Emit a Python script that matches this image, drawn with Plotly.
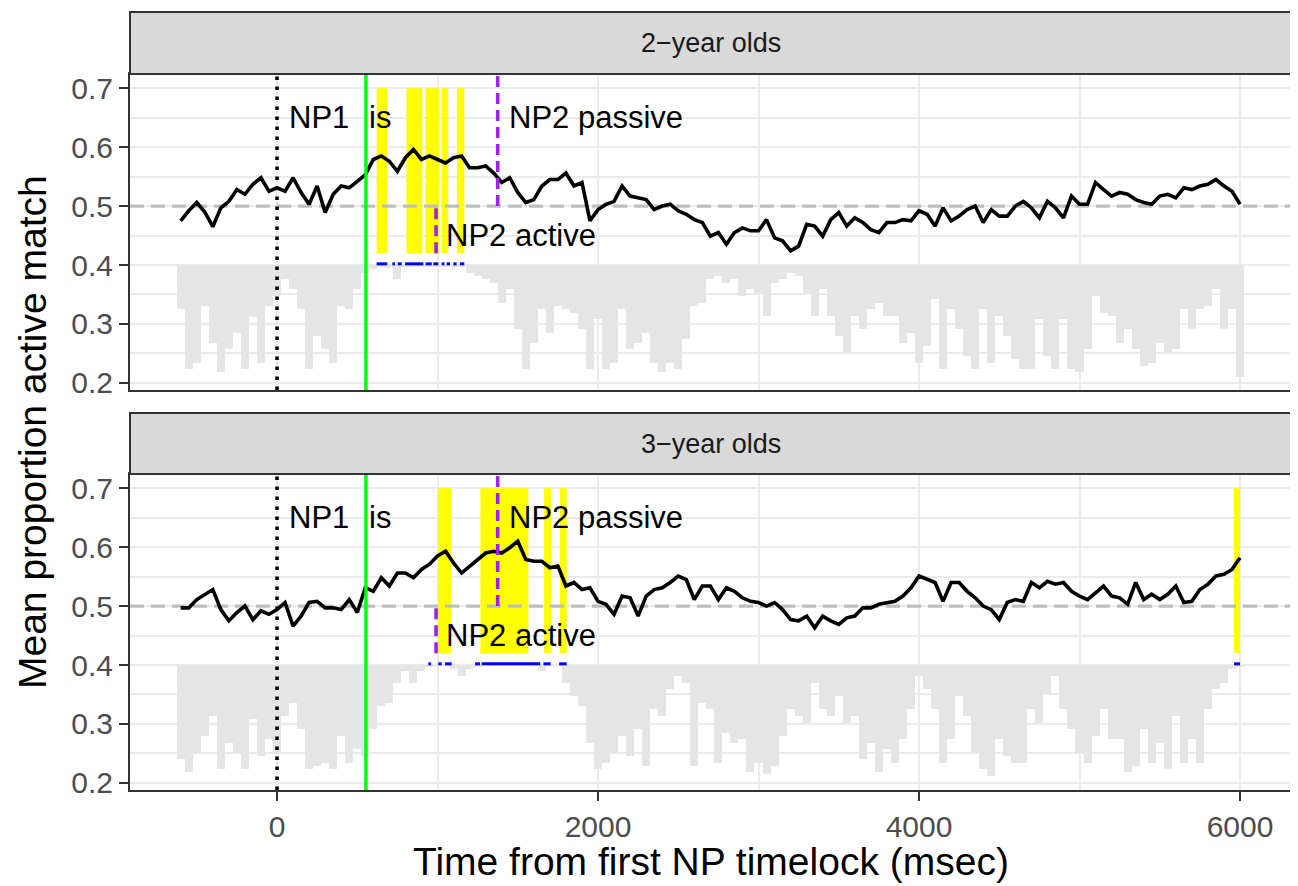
import plotly.graph_objects as go

# ---------------- data ----------------
times = list(range(-600, 6001, 50))  # ms, time bins

line_2yo = [
    0.475, 0.492, 0.506, 0.490, 0.465, 0.497, 0.508, 0.528, 0.520, 0.537,
    0.548, 0.525, 0.531, 0.525, 0.548, 0.523, 0.503, 0.534, 0.489, 0.520,
    0.534, 0.531, 0.542, 0.553, 0.579, 0.585, 0.576, 0.559, 0.582, 0.596,
    0.579, 0.585, 0.579, 0.573, 0.582, 0.585, 0.565, 0.565, 0.568, 0.556,
    0.540, 0.548, 0.523, 0.506, 0.511, 0.534, 0.545, 0.545, 0.556, 0.534,
    0.540, 0.475, 0.494, 0.503, 0.508, 0.534, 0.517, 0.514, 0.511, 0.494,
    0.500, 0.503, 0.492, 0.486, 0.477, 0.472, 0.449, 0.455, 0.435, 0.455,
    0.463, 0.458, 0.458, 0.477, 0.446, 0.441, 0.424, 0.432, 0.469, 0.466,
    0.449, 0.477, 0.489, 0.466, 0.480, 0.472, 0.460, 0.455, 0.472, 0.472,
    0.477, 0.475, 0.492, 0.486, 0.466, 0.497, 0.475, 0.483, 0.494, 0.500,
    0.472, 0.494, 0.483, 0.483, 0.500, 0.508, 0.497, 0.480, 0.508, 0.497,
    0.480, 0.517, 0.503, 0.503, 0.540, 0.528, 0.517, 0.523, 0.520, 0.511,
    0.506, 0.503, 0.517, 0.520, 0.514, 0.531, 0.528, 0.534, 0.537, 0.545,
    0.534, 0.525, 0.503,
]
bars_2yo = [
    0.325, 0.223, 0.234, 0.330, 0.268, 0.218, 0.257, 0.285, 0.223, 0.311,
    0.234, 0.330, 0.347, 0.376, 0.359, 0.325, 0.223, 0.280, 0.257, 0.234,
    0.330, 0.325, 0.359, 0.387, 0.393, 0.398, 0.395, 0.376, 0.398, 0.398,
    0.398, 0.398, 0.397, 0.398, 0.398, 0.398, 0.387, 0.381, 0.376, 0.370,
    0.336, 0.359, 0.291, 0.223, 0.268, 0.325, 0.285, 0.330, 0.325, 0.319,
    0.291, 0.223, 0.308, 0.223, 0.234, 0.325, 0.257, 0.268, 0.285, 0.234,
    0.218, 0.234, 0.223, 0.274, 0.330, 0.336, 0.376, 0.381, 0.370, 0.376,
    0.347, 0.359, 0.353, 0.314, 0.370, 0.376, 0.387, 0.381, 0.353, 0.314,
    0.359, 0.314, 0.280, 0.251, 0.314, 0.291, 0.325, 0.336, 0.314, 0.314,
    0.268, 0.285, 0.234, 0.263, 0.342, 0.223, 0.325, 0.291, 0.246, 0.223,
    0.325, 0.234, 0.314, 0.280, 0.240, 0.223, 0.223, 0.308, 0.246, 0.223,
    0.308, 0.223, 0.218, 0.257, 0.347, 0.319, 0.314, 0.268, 0.291, 0.257,
    0.229, 0.234, 0.268, 0.251, 0.257, 0.325, 0.291, 0.325, 0.330, 0.359,
    0.291, 0.325, 0.210,
]
line_3yo = [
    0.497, 0.497, 0.511, 0.520, 0.528, 0.494, 0.475, 0.489, 0.500, 0.477,
    0.492, 0.486, 0.494, 0.506, 0.466, 0.483, 0.506, 0.508, 0.497, 0.497,
    0.494, 0.511, 0.489, 0.531, 0.525, 0.548, 0.534, 0.556, 0.556, 0.548,
    0.562, 0.571, 0.585, 0.593, 0.573, 0.556, 0.568, 0.579, 0.590, 0.593,
    0.590, 0.599, 0.610, 0.579, 0.576, 0.576, 0.565, 0.568, 0.534, 0.540,
    0.528, 0.531, 0.508, 0.503, 0.486, 0.517, 0.514, 0.483, 0.517, 0.528,
    0.531, 0.540, 0.551, 0.545, 0.511, 0.534, 0.534, 0.511, 0.531, 0.525,
    0.514, 0.508, 0.506, 0.500, 0.506, 0.494, 0.477, 0.475, 0.483, 0.463,
    0.483, 0.475, 0.469, 0.480, 0.483, 0.497, 0.497, 0.503, 0.506, 0.508,
    0.517, 0.531, 0.551, 0.545, 0.540, 0.508, 0.540, 0.540, 0.525, 0.514,
    0.500, 0.494, 0.477, 0.506, 0.511, 0.508, 0.540, 0.531, 0.542, 0.537,
    0.540, 0.525, 0.517, 0.511, 0.523, 0.534, 0.517, 0.514, 0.503, 0.540,
    0.511, 0.520, 0.511, 0.520, 0.534, 0.506, 0.508, 0.528, 0.537, 0.551,
    0.554, 0.562, 0.582,
]
bars_3yo = [
    0.240, 0.218, 0.251, 0.280, 0.314, 0.223, 0.268, 0.251, 0.223, 0.308,
    0.246, 0.274, 0.251, 0.314, 0.336, 0.291, 0.223, 0.229, 0.234, 0.223,
    0.280, 0.234, 0.257, 0.246, 0.291, 0.330, 0.336, 0.370, 0.390, 0.370,
    0.390, 0.398, 0.399, 0.399, 0.393, 0.381, 0.393, 0.398, 0.399, 0.399,
    0.399, 0.399, 0.399, 0.399, 0.399, 0.390, 0.400, 0.399, 0.370, 0.347,
    0.330, 0.268, 0.223, 0.234, 0.251, 0.280, 0.246, 0.291, 0.229, 0.325,
    0.314, 0.359, 0.381, 0.370, 0.229, 0.336, 0.325, 0.234, 0.285, 0.268,
    0.274, 0.218, 0.234, 0.215, 0.229, 0.280, 0.325, 0.314, 0.302, 0.370,
    0.325, 0.314, 0.347, 0.302, 0.314, 0.240, 0.268, 0.218, 0.257, 0.234,
    0.274, 0.325, 0.381, 0.359, 0.325, 0.234, 0.274, 0.347, 0.314, 0.251,
    0.223, 0.212, 0.274, 0.246, 0.234, 0.234, 0.325, 0.302, 0.353, 0.381,
    0.325, 0.291, 0.251, 0.234, 0.280, 0.325, 0.274, 0.274, 0.218, 0.229,
    0.291, 0.234, 0.268, 0.223, 0.314, 0.234, 0.274, 0.234, 0.325, 0.359,
    0.370, 0.393, 0.398,
]

panel_titles = ["2\u2212year olds", "3\u2212year olds"]

# significant clusters (start, end) in ms
clusters_2yo = [(621, 687), (806, 905), (926, 1009), (1026, 1067), (1121, 1167)]
clusters_3yo = [(1005, 1084), (1267, 1566), (1664, 1709), (1763, 1805), (5963, 6000)]
# significant bins marked in blue
sig_2yo = [(621, 687), (719, 735), (752, 777), (798, 912), (926, 964),
           (974, 1005), (1026, 1043), (1057, 1078), (1099, 1119), (1140, 1167)]
sig_3yo = [(943, 960), (1005, 1026), (1047, 1088), (1234, 1265), (1275, 1640),
           (1660, 1705), (1758, 1805), (5963, 6000)]

event_np1 = 0
event_is = 554
event_np2_active = 991
event_np2_passive = 1375
chance = 0.5
bar_base = 0.4
cluster_low, cluster_high = 0.42, 0.70
sig_level = 0.402

# ---------------- layout geometry ----------------
# the page body has an 8px margin, so the figure is laid out 8px up/left
OFF = 8
W, H = 1298 - OFF, 886 - OFF
XR = [-916, 6324]
YR = [0.188, 0.724]
PX_L, PX_R = 130 - OFF, 1292 - OFF
PANELS_PX = [(74 - OFF, 390 - OFF), (474 - OFF, 790 - OFF)]
STRIPS_PX = [(12 - OFF, 74 - OFF), (413 - OFF, 474 - OFF)]
FONT = "Liberation Sans, Arial, Helvetica, sans-serif"


def py(p):
    return 1 - p / H


fig = go.Figure()

series = [
    (line_2yo, bars_2yo, clusters_2yo, sig_2yo),
    (line_3yo, bars_3yo, clusters_3yo, sig_3yo),
]

for i, (line_vals, bar_vals, clusters, sig) in enumerate(series):
    xa = "x" if i == 0 else "x2"
    ya = "y" if i == 0 else "y2"
    # yellow cluster rectangles
    cx, cy = [], []
    for (s, e) in clusters:
        cx += [s, e, e, s, s, None]
        cy += [cluster_low, cluster_low, cluster_high, cluster_high, cluster_low, None]
    fig.add_trace(go.Scatter(x=cx, y=cy, fill="toself", fillcolor="#FFFF00",
                             mode="lines", line=dict(width=0, color="#FFFF00"),
                             xaxis=xa, yaxis=ya, hoverinfo="skip", showlegend=False))
    # grey bars hanging from 0.4
    fig.add_trace(go.Bar(x=times, y=[v - bar_base for v in bar_vals], base=bar_base,
                         width=50, marker=dict(color="#E5E5E5", line=dict(width=0)),
                         xaxis=xa, yaxis=ya, showlegend=False, hoverinfo="skip"))
    # chance line
    fig.add_trace(go.Scatter(x=XR, y=[chance, chance], mode="lines",
                             line=dict(color="#BEBEBE", width=3.2, dash="14px,7px"),
                             xaxis=xa, yaxis=ya, showlegend=False, hoverinfo="skip"))
    # mean proportion line
    fig.add_trace(go.Scatter(x=times, y=line_vals, mode="lines",
                             line=dict(color="black", width=3.6),
                             xaxis=xa, yaxis=ya, showlegend=False))
    # blue significance marks
    bx, by = [], []
    for (s, e) in sig:
        bx += [s, e, None]
        by += [sig_level, sig_level, None]
    fig.add_trace(go.Scatter(x=bx, y=by, mode="lines",
                             line=dict(color="#0000FF", width=3),
                             xaxis=xa, yaxis=ya, showlegend=False, hoverinfo="skip"))
    # event lines
    fig.add_trace(go.Scatter(x=[event_np1, event_np1], y=YR, mode="lines",
                             line=dict(color="black", width=3.6, dash="3.6px,6.4px"),
                             xaxis=xa, yaxis=ya, showlegend=False, hoverinfo="skip"))
    fig.add_trace(go.Scatter(x=[event_is, event_is], y=YR, mode="lines",
                             line=dict(color="#00FF00", width=3.4),
                             xaxis=xa, yaxis=ya, showlegend=False, hoverinfo="skip"))
    fig.add_trace(go.Scatter(x=[event_np2_active, event_np2_active], y=[cluster_low, chance],
                             mode="lines", line=dict(color="#A020F0", width=3.6, dash="11px,6px"),
                             xaxis=xa, yaxis=ya, showlegend=False, hoverinfo="skip"))
    fig.add_trace(go.Scatter(x=[event_np2_passive, event_np2_passive], y=[chance, YR[1]],
                             mode="lines", line=dict(color="#A020F0", width=3.6, dash="11px,6px"),
                             xaxis=xa, yaxis=ya, showlegend=False, hoverinfo="skip"))

    # labels
    for txt, xv, yv in [("NP1", event_np1 + 62, 0.65), ("is", event_is + 8, 0.65),
                        ("NP2 passive", event_np2_passive + 55, 0.65),
                        ("NP2 active", event_np2_active + 50, 0.45)]:
        fig.add_annotation(x=xv, y=yv, xref=xa, yref=ya, text=txt, showarrow=False,
                           xanchor="left", yanchor="middle",
                           font=dict(family=FONT, size=31, color="black"))

    # strip
    s0, s1 = STRIPS_PX[i]
    fig.add_shape(type="rect", xref="paper", yref="paper",
                  x0=PX_L / W, x1=PX_R / W, y0=py(s1), y1=py(s0),
                  fillcolor="#D9D9D9", line=dict(color="#333333", width=2), layer="above")
    fig.add_annotation(x=(PX_L + PX_R) / 2 / W, y=py((s0 + s1) / 2), xref="paper", yref="paper",
                       text=panel_titles[i], showarrow=False, xanchor="center", yanchor="middle",
                       font=dict(family=FONT, size=27, color="#1A1A1A"))

common_x = dict(range=XR, showgrid=True, gridcolor="#EBEBEB", gridwidth=2.2,
                tick0=0, dtick=2000, zeroline=False,
                minor=dict(dtick=1000, showgrid=True, gridcolor="#EBEBEB", gridwidth=1.6, ticks=""),
                showline=True, mirror=True, linecolor="#333333", linewidth=2,
                domain=[PX_L / W, PX_R / W], automargin=False, fixedrange=True)
common_y = dict(range=YR, showgrid=True, gridcolor="#EBEBEB", gridwidth=2.2,
                tick0=0.2, dtick=0.1, tickformat=".1f", zeroline=False,
                minor=dict(dtick=0.05, showgrid=True, gridcolor="#EBEBEB", gridwidth=1.6, ticks=""),
                showline=True, mirror=True, linecolor="#333333", linewidth=2,
                ticks="outside", ticklen=9, tickwidth=2, tickcolor="#333333",
                tickfont=dict(family=FONT, size=30, color="#4D4D4D"),
                automargin=False, fixedrange=True)

fig.update_layout(
    width=W, height=H,
    margin=dict(l=0, r=0, t=0, b=0),
    paper_bgcolor="white", plot_bgcolor="white",
    bargap=0, barmode="overlay", showlegend=False,
    xaxis=dict(**common_x, anchor="y", showticklabels=False, ticks=""),
    xaxis2=dict(**common_x, anchor="y2", ticks="outside", ticklen=9, tickwidth=2,
                tickcolor="#333333",
                tickfont=dict(family=FONT, size=30, color="#4D4D4D")),
    yaxis=dict(**common_y, anchor="x", domain=[py(PANELS_PX[0][1]), py(PANELS_PX[0][0])]),
    yaxis2=dict(**common_y, anchor="x2", domain=[py(PANELS_PX[1][1]), py(PANELS_PX[1][0])]),
    font=dict(family=FONT),
)

fig.add_annotation(x=(PX_L + PX_R) / 2 / W, y=py(861 - OFF), xref="paper", yref="paper",
                   text="Time from first NP timelock (msec)", showarrow=False,
                   xanchor="center", yanchor="middle",
                   font=dict(family=FONT, size=39, color="black"))
fig.add_annotation(x=(33 - OFF) / W, y=py(432 - OFF), xref="paper", yref="paper",
                   text="Mean proportion active match", showarrow=False, textangle=-90,
                   xanchor="center", yanchor="middle",
                   font=dict(family=FONT, size=39, color="black"))

fig.write_html("out.html")
